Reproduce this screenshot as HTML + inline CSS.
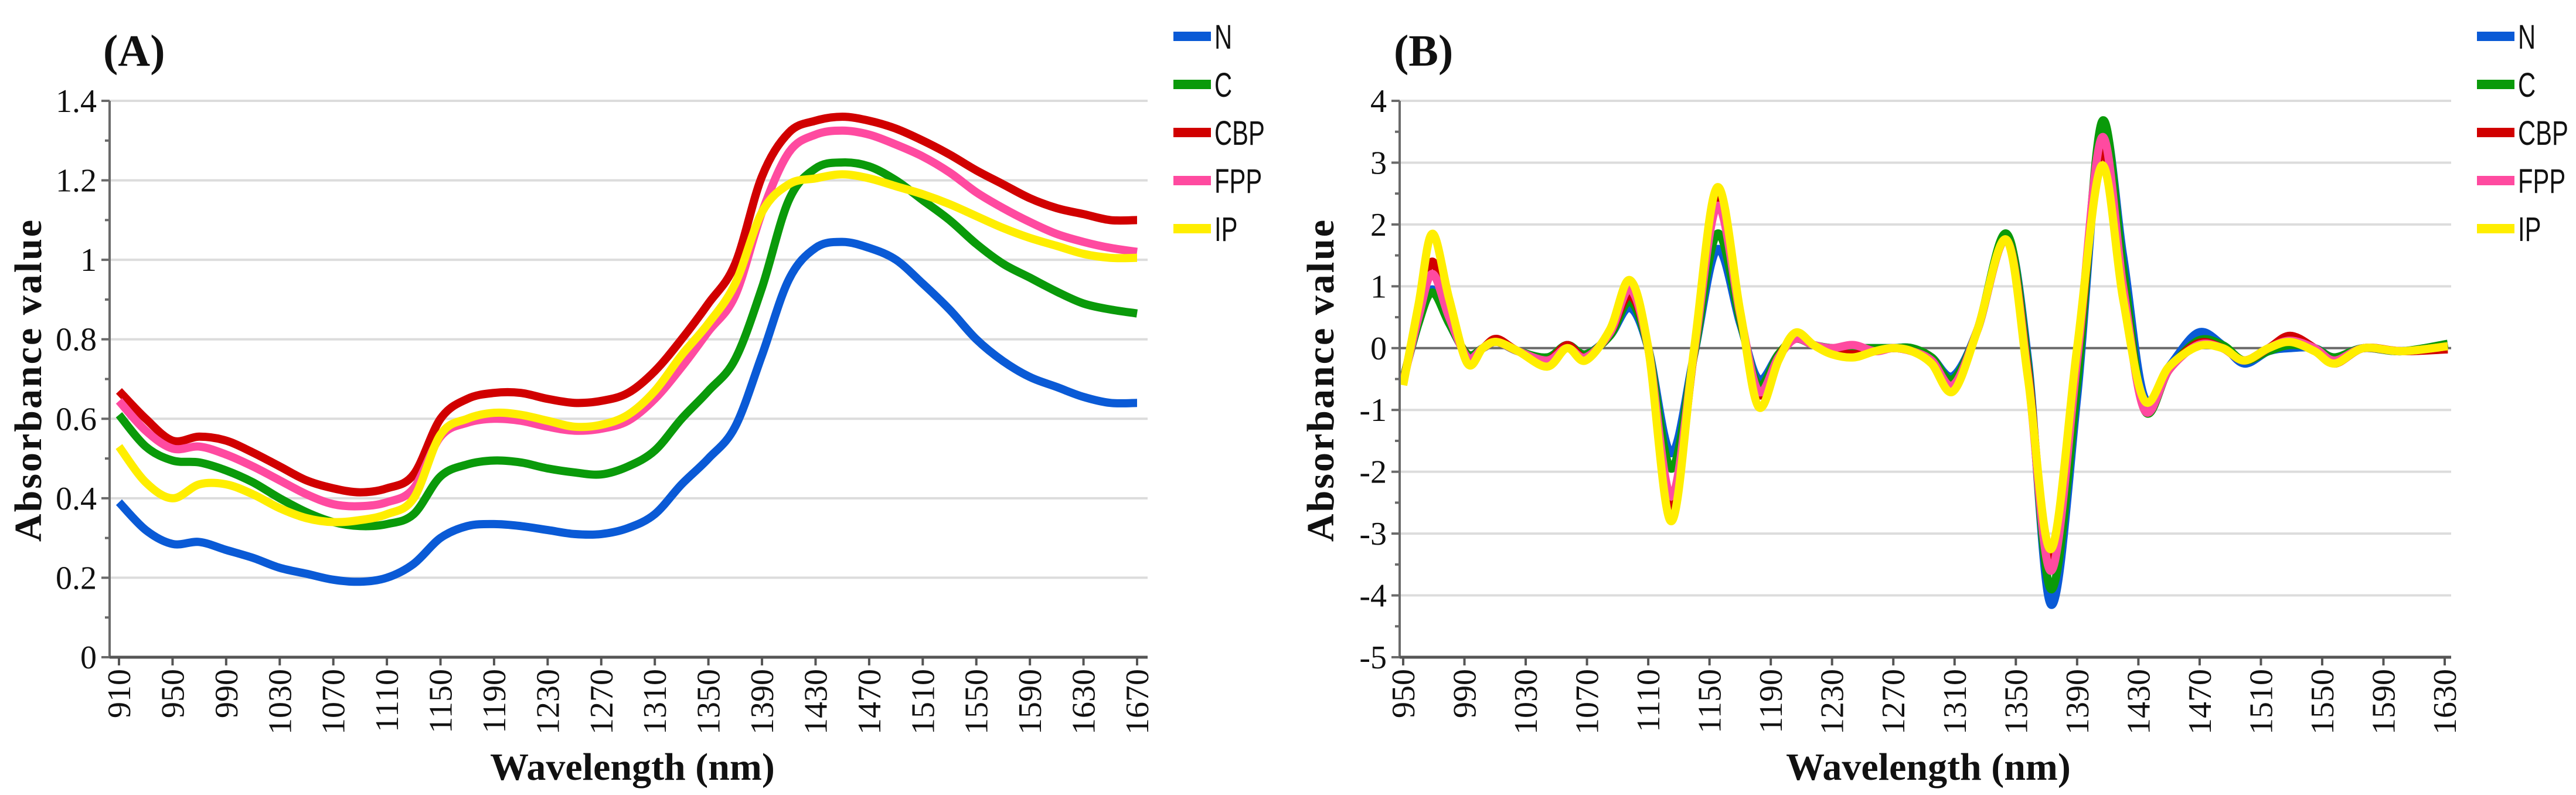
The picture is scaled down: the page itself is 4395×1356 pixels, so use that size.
<!DOCTYPE html>
<html><head><meta charset="utf-8"><style>
html,body{margin:0;padding:0;background:#fff;}
svg{display:block;}
</style></head><body>
<svg id="chart" width="4395" height="1356" viewBox="0 0 4395 1356" xmlns="http://www.w3.org/2000/svg">
<g id="pa"></g>
<g id="pb"></g>
</svg>
<script>
// ---- Panel A data ----
const aWave = [910,930,950,970,990,1010,1030,1050,1070,1090,1110,1130,1150,1170,1190,1210,1230,1250,1270,1290,1310,1330,1350,1370,1390,1410,1430,1450,1470,1490,1510,1530,1550,1570,1590,1610,1630,1650,1670];
const aN   = [.39,.32,.285,.29,.27,.25,.225,.21,.195,.19,.20,.235,.30,.33,.335,.33,.32,.31,.31,.325,.36,.435,.50,.58,.76,.95,1.03,1.045,1.03,1.00,.94,.875,.80,.745,.705,.68,.655,.64,.64];
const aC   = [.61,.53,.495,.49,.47,.44,.40,.365,.34,.33,.335,.36,.455,.485,.495,.49,.475,.465,.46,.48,.52,.60,.67,.75,.93,1.15,1.23,1.245,1.235,1.20,1.15,1.10,1.04,.99,.955,.92,.89,.875,.865];
const aCBP = [.67,.60,.545,.555,.545,.515,.48,.445,.425,.415,.425,.46,.60,.65,.665,.665,.65,.64,.645,.665,.72,.80,.89,.99,1.21,1.32,1.35,1.36,1.35,1.33,1.30,1.265,1.225,1.19,1.155,1.13,1.115,1.10,1.10];
const aFPP = [.645,.57,.525,.53,.51,.48,.445,.41,.385,.38,.39,.425,.555,.59,.60,.595,.58,.57,.575,.595,.65,.73,.82,.91,1.12,1.27,1.315,1.325,1.315,1.29,1.26,1.22,1.17,1.13,1.095,1.065,1.045,1.03,1.02];
const aIP  = [.53,.44,.40,.435,.435,.41,.375,.35,.34,.345,.36,.40,.56,.60,.615,.61,.595,.58,.585,.61,.67,.76,.84,.94,1.12,1.19,1.205,1.215,1.205,1.185,1.165,1.14,1.11,1.08,1.055,1.035,1.015,1.005,1.005];
const aYTicks = ["0","0.2","0.4","0.6","0.8","1","1.2","1.4"];
const aXTicks = [910,950,990,1030,1070,1110,1150,1190,1230,1270,1310,1350,1390,1430,1470,1510,1550,1590,1630,1670];
// ---- Panel B data ----
const bWave = [950,960,969,980,992,1002,1011,1025,1044,1057,1069,1085,1098,1110,1125,1140,1155,1170,1182,1195,1206,1218,1230,1244,1258,1270,1282,1295,1309,1325,1344,1358,1373,1390,1406,1420,1434,1450,1469,1485,1499,1515,1529,1545,1558,1577,1602,1632];
const bN   = [-0.5,0.4,0.95,0.4,-0.1,0.0,0.1,-0.05,-0.15,0.05,-0.1,0.2,0.65,0.0,-1.7,-0.1,1.6,0.4,-0.5,-0.1,0.15,0.05,0.0,0.0,0.0,0.0,0.0,-0.15,-0.45,0.3,1.8,-0.2,-4.15,-0.8,3.55,1.5,-0.8,-0.3,0.25,0.05,-0.25,-0.05,0.0,0.0,-0.15,0.0,-0.05,0.05];
const bC   = [-0.5,0.4,0.9,0.4,-0.1,0.0,0.1,-0.05,-0.15,0.05,-0.1,0.2,0.75,0.0,-1.95,-0.1,1.85,0.45,-0.6,-0.1,0.15,0.05,0.0,0.0,0.0,0.0,0.0,-0.15,-0.5,0.3,1.85,-0.3,-3.9,-0.6,3.65,1.3,-1.0,-0.35,0.12,0.05,-0.2,-0.05,0.05,0.0,-0.15,0.0,-0.05,0.07];
const bCBP = [-0.55,0.55,1.4,0.55,-0.15,0.0,0.15,-0.05,-0.2,0.05,-0.15,0.25,0.85,0.0,-2.65,-0.05,2.45,0.55,-0.75,-0.15,0.2,0.05,-0.05,-0.1,-0.05,0.0,-0.05,-0.2,-0.6,0.3,1.75,-0.4,-3.5,-0.2,3.2,1.0,-1.0,-0.35,0.08,0.0,-0.2,0.0,0.2,0.0,-0.25,0.0,-0.05,-0.02];
const bFPP = [-0.55,0.5,1.2,0.5,-0.15,0.0,0.1,-0.05,-0.2,0.0,-0.15,0.25,0.95,0.0,-2.4,-0.05,2.3,0.55,-0.7,-0.15,0.15,0.05,0.0,0.05,-0.05,0.0,-0.05,-0.2,-0.6,0.3,1.75,-0.45,-3.6,-0.2,3.4,1.0,-1.0,-0.35,0.05,0.0,-0.2,0.0,0.12,0.0,-0.2,0.0,-0.05,0.03];
const bIP  = [-0.6,0.7,1.85,0.8,-0.25,0.0,0.1,-0.05,-0.3,0.0,-0.2,0.3,1.1,0.0,-2.8,0.0,2.6,0.6,-0.95,-0.2,0.25,0.05,-0.1,-0.15,-0.05,0.0,-0.05,-0.25,-0.7,0.3,1.75,-0.5,-3.25,0.0,2.95,0.8,-0.85,-0.3,0.03,0.0,-0.2,0.0,0.1,-0.05,-0.25,0.0,-0.05,0.03];
const bYTicks = ["-5","-4","-3","-2","-1","0","1","2","3","4"];
const bXTicks = [950,990,1030,1070,1110,1150,1190,1230,1270,1310,1350,1390,1430,1470,1510,1550,1590,1630];

const seriesNames = ["N","C","CBP","FPP","IP"];
const colors = ["#0a5ad6","#0a9a0a","#d10000","#ff4aa0","#ffee00"];
const NS = "http://www.w3.org/2000/svg";

function mk(parent, tag, attrs, text){
  const e = document.createElementNS(NS, tag);
  for (const k in attrs) e.setAttribute(k, attrs[k]);
  if (text !== undefined) e.textContent = text;
  parent.appendChild(e);
  return e;
}
function smoothPath(pts){
  let d = "M" + pts[0][0].toFixed(1) + "," + pts[0][1].toFixed(1);
  for (let i = 0; i < pts.length - 1; i++){
    const p0 = pts[Math.max(0,i-1)], p1 = pts[i], p2 = pts[i+1], p3 = pts[Math.min(pts.length-1,i+2)];
    const c1x = p1[0] + (p2[0]-p0[0])/6, c1y = p1[1] + (p2[1]-p0[1])/6;
    const c2x = p2[0] - (p3[0]-p1[0])/6, c2y = p2[1] - (p3[1]-p1[1])/6;
    d += " C" + c1x.toFixed(1)+","+c1y.toFixed(1)+" "+c2x.toFixed(1)+","+c2y.toFixed(1)+" "+p2[0].toFixed(1)+","+p2[1].toFixed(1);
  }
  return d;
}

function panel(g, cfg){
  const X = w => cfg.x0 + (w - cfg.w0) * (cfg.x1 - cfg.x0) / (cfg.w1 - cfg.w0);
  const Y = v => cfg.y0 + (v - cfg.v0) * (cfg.y1 - cfg.y0) / (cfg.v1 - cfg.v0);
  cfg.yTicks.forEach(t => {
    const v = parseFloat(t);
    if (v !== cfg.v0) {
      const gl = mk(g, "line", {x1: cfg.axL, x2: cfg.axR, y1: Y(v), y2: Y(v), stroke: "#dcdcdc", "stroke-width": 4});
      
      
    }
  });
  if (cfg.zeroLine){
    const zl = mk(g, "line", {x1: cfg.axL, x2: cfg.axR, y1: Y(0), y2: Y(0), stroke: "#6a6a6a", "stroke-width": 4});
    
    
  }
  for (let i = 0; i < cfg.yTicks.length - 1; i++){
    const a = parseFloat(cfg.yTicks[i]), b = parseFloat(cfg.yTicks[i+1]);
    for (let k = 1; k < cfg.minor; k++){
      const v = a + (b-a)*k/cfg.minor;
      const mt = mk(g, "line", {x1: cfg.axL-8, x2: cfg.axL, y1: Y(v), y2: Y(v), stroke: "#6a6a6a", "stroke-width": 4});
      
      
    }
  }
  const sg = mk(g, "g", {});
  
  
  cfg.series.forEach((vals, si) => {
    const pts = cfg.wave.map((w, i) => [X(w), Y(vals[i])]);
    const p = mk(sg, "path", {d: smoothPath(pts), fill: "none", stroke: colors[si], "stroke-width": 14, "stroke-linejoin": "round"});
    
    
  });
  const ya = mk(g, "line", {x1: cfg.axL, x2: cfg.axL, y1: Y(cfg.yTop), y2: cfg.y0, stroke: "#6a6a6a", "stroke-width": 4});
  
  
  const xa = mk(g, "line", {x1: cfg.axL, x2: cfg.axR, y1: cfg.y0, y2: cfg.y0, stroke: "#555", "stroke-width": 5});
  
  
  cfg.yTicks.forEach(t => {
    const v = parseFloat(t);
    const tk = mk(g, "line", {x1: cfg.axL-14, x2: cfg.axL, y1: Y(v), y2: Y(v), stroke: "#6a6a6a", "stroke-width": 4});
    
    
    const lb = mk(g, "text", {x: cfg.axL-22, y: Y(v)+19, "text-anchor": "end", "font-family": "Liberation Serif, serif", "font-size": 56, fill: "#111"}, t);
    
    
  });
  cfg.xTicks.forEach(w => {
    const tk = mk(g, "line", {x1: X(w), x2: X(w), y1: cfg.y0, y2: cfg.y0+14, stroke: "#555", "stroke-width": 4});
    
    
    const lb = mk(g, "text", {x: 0, y: 0, "text-anchor": "end", "font-family": "Liberation Serif, serif", "font-size": 56, fill: "#111",
      transform: "translate(" + (X(w)+19) + "," + (cfg.y0+20) + ") rotate(-90)"}, String(w));
    
    
  });
  const xt = mk(g, "text", {x: cfg.xTitleX, y: 1330, "text-anchor": "middle", "font-family": "Liberation Serif, serif", "font-weight": "bold", "font-size": 66, fill: "#111"}, "Wavelength (nm)");
  
  
  const yt = mk(g, "text", {x: 0, y: 0, "text-anchor": "middle", "font-family": "Liberation Serif, serif", "font-weight": "bold", "font-size": 66, fill: "#111",
    "letter-spacing": 3, transform: "translate(" + cfg.yTitleX + ",648) rotate(-90)"}, "Absorbance value");
  
  
  const pt = mk(g, "text", {x: cfg.panelX, y: 112, "font-family": "Liberation Serif, serif", "font-weight": "bold", "font-size": 76, fill: "#111"}, cfg.label);
  
  
  const lg = mk(g, "g", {});
  
  
  seriesNames.forEach((n, i) => {
    const yy = 62 + i * 82;
    const sw = mk(lg, "rect", {x: cfg.legX, y: yy-8, width: 64, height: 16, fill: colors[i]});
    
    
    const tx = mk(lg, "text", {x: 0, y: 0, "font-family": "Liberation Sans, sans-serif", "font-size": 58, fill: "#111",
      transform: "translate(" + (cfg.legX+70) + "," + (yy+21) + ") scale(0.72,1)"}, n);
    
    
  });
}

panel(document.getElementById("pa"), {
  x0: 203, x1: 1940, w0: 910, w1: 1670, y0: 1121, y1: 172, v0: 0, v1: 1.4, yTop: 1.4,
  axL: 187, axR: 1958, minor: 2, zeroLine: false,
  wave: aWave, series: [aN, aC, aCBP, aFPP, aIP], yTicks: aYTicks, xTicks: aXTicks,
  xTitleX: 1079, yTitleX: 70, panelX: 176, label: "(A)", legX: 2002
});
panel(document.getElementById("pb"), {
  x0: 2394, x1: 4171, w0: 950, w1: 1630, y0: 1121, y1: 172, v0: -5, v1: 4, yTop: 4,
  axL: 2388, axR: 4182, minor: 2, zeroLine: true,
  wave: bWave, series: [bN, bC, bCBP, bFPP, bIP], yTicks: bYTicks, xTicks: bXTicks,
  xTitleX: 3290, yTitleX: 2275, panelX: 2378, label: "(B)", legX: 4226
});
</script>
</body></html>
